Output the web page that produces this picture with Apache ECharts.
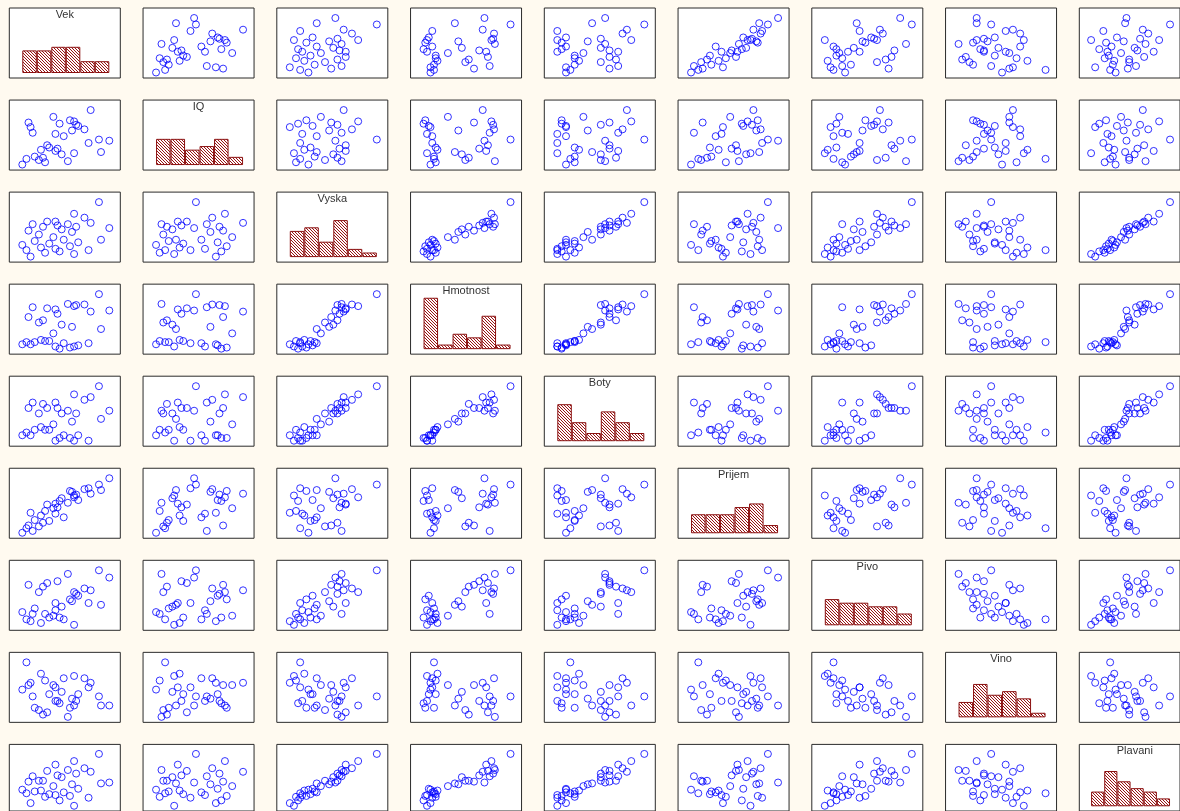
<!DOCTYPE html>
<html>
<head>
<meta charset="utf-8">
<script src="https://cdn.jsdelivr.net/npm/echarts@6/dist/echarts.min.js"></script>
<style>
  html, body { margin: 0; padding: 0; background: #fffaf0; }
  #chart { width: 1180px; height: 811px; }
</style>
</head>
<body>
<div id="chart"></div>
<script>
// Variable names (drawn on the diagonal)
const names = ['Vek', 'IQ', 'Vyska', 'Hmotnost', 'Boty', 'Prijem', 'Pivo', 'Vino', 'Plavani'];

// One value per respondent (32 respondents)
const vek      = [24, 45, 31, 38, 52, 22, 36, 29, 43, 20, 33, 47, 26, 40, 58, 35, 28, 44, 23, 39, 62, 30, 46, 37, 25, 42, 53, 32, 36, 50, 45, 57];
const iq       = [118, 95, 87, 121, 104, 90, 112, 98, 124, 85, 100, 119, 92, 110, 96, 127, 89, 115, 122, 94, 106, 91, 120, 99, 113, 88, 133, 102, 97, 116, 123, 107];
const vyska    = [155, 157, 158, 159, 160, 160, 161, 162, 163, 164, 165, 166, 167, 168, 168, 170, 172, 174, 175, 176, 177, 178, 178, 179, 180, 180, 181, 182, 182, 185, 188, 197];
const hmotnost = [54, 52, 57, 50, 55, 56, 52, 58, 51, 54, 57, 53, 56, 55, 68, 64, 74, 70, 79, 72, 85, 76, 90, 82, 88, 91, 84, 87, 86, 90.5, 89, 100];
const boty     = [37, 36, 38, 36.5, 36, 37.5, 36, 38.5, 36.5, 37, 38, 37, 38, 37, 40, 39, 41, 39.5, 42, 41, 41.5, 42.75, 41, 42, 43, 41.5, 44, 42, 43, 43.5, 44.5, 46];
const prijem   = [23000, 32500, 24000, 29500, 36500, 14500, 22500, 21500, 35000, 12000, 18500, 30000, 19000, 20500, 35500, 25500, 15500, 34500, 16000, 31000, 42000, 17500, 33000, 26000, 13000, 28500, 33500, 27500, 28000, 36000, 31500, 38500];
const pivo     = [2, 0, 6, 4, 12, 3, 8, 1, 14, 7, 4, 16, 9, 3, 11, 5, 18, 13, 22, 10, 26, 21, 17, 24, 6, 28, 19, 23, 12, 20, 18, 30];
const vino     = [7.5, 9, 8, 3, 6.5, 12, 3.5, 9.5, 2, 6, 5, 5, 2, 8.5, 2.5, 7, 1.5, 4, 7, 5.5, 2.5, 0.5, 3.5, 3.5, 4.5, 0, 7.5, 1, 6.5, 8.5, 2.5, 4.5];
const plavani  = [5, 2, 12, 8, 11, 16, 14, 19, 13, 20, 15, 21, 18, 17, 27, 24, 30, 26, 29, 34, 28, 30, 38, 36, 35, 42, 40, 41, 48, 44, 52, 60];

const columns = [vek, iq, vyska, hmotnost, boty, prijem, pivo, vino, plavani];
const nBins = 6;

// Panel geometry (px)
const cellX0 = 9.3, cellY0 = 8, pitchX = 133.75, pitchY = 92.05;
const cellW = 111, cellH = 70;
const padL = 13, padR = 11, padT = 10, padB = 5.5;
const pxPerCount = 3.6;

// Hatch pattern for the histogram bars
const hatch = document.createElement('canvas');
hatch.width = 3; hatch.height = 3;
(function () {
  const g = hatch.getContext('2d');
  const img = g.createImageData(3, 3);
  for (let y = 0; y < 3; y++) {
    for (let x = 0; x < 3; x++) {
      const k = (y * 3 + x) * 4;
      const on = ((x - y + 3) % 3) === 0;
      img.data[k] = on ? 150 : 255;
      img.data[k + 1] = on ? 20 : 250;
      img.data[k + 2] = on ? 20 : 250;
      img.data[k + 3] = 255;
    }
  }
  g.putImageData(img, 0, 0);
})();

function extent(arr) {
  return [Math.min.apply(null, arr), Math.max.apply(null, arr)];
}

function histogram(arr) {
  const [lo, hi] = extent(arr);
  const w = (hi - lo) / nBins;
  const counts = new Array(nBins).fill(0);
  arr.forEach(v => {
    let b = Math.floor((v - lo) / w);
    if (b >= nBins) b = nBins - 1;
    counts[b]++;
  });
  return counts.map((c, i) => [lo + i * w, lo + (i + 1) * w, c]);
}

const grids = [], xAxes = [], yAxes = [], series = [], graphics = [];
const n = columns.length;

for (let r = 0; r < n; r++) {
  for (let c = 0; c < n; c++) {
    const idx = grids.length;
    const left = cellX0 + c * pitchX;
    const top = cellY0 + r * pitchY;
    grids.push({
      left: left, top: top, width: cellW, height: cellH,
      show: true, backgroundColor: '#ffffff', borderColor: '#2b2b2b', borderWidth: 1,
      containLabel: false
    });
    const [xl, xh] = extent(columns[c]);
    const xr = xh - xl;
    const innerW = cellW - padL - padR;
    const innerH = cellH - padT - padB;
    xAxes.push({
      type: 'value', gridIndex: idx, show: false,
      min: xl - padL / innerW * xr, max: xh + padR / innerW * xr
    });
    if (r === c) {
      yAxes.push({
        type: 'value', gridIndex: idx, show: false,
        min: -padB / pxPerCount, max: (cellH - padB) / pxPerCount
      });
      series.push({
        type: 'custom', xAxisIndex: idx, yAxisIndex: idx,
        data: histogram(columns[c]),
        silent: true,
        renderItem: function (params, api) {
          const p0 = api.coord([api.value(0), api.value(2)]);
          const p1 = api.coord([api.value(1), 0]);
          return {
            type: 'rect',
            shape: { x: p0[0] + 0.5, y: p0[1], width: p1[0] - p0[0] - 1, height: p1[1] - p0[1] },
            style: { fill: { image: hatch, repeat: 'repeat' }, stroke: '#8b1010', lineWidth: 1 }
          };
        }
      });
      graphics.push({
        type: 'text', x: left + cellW / 2, y: top + 1,
        style: {
          text: names[c], align: 'center', verticalAlign: 'top',
          font: '11px "Liberation Sans", Arial, sans-serif', fill: '#333333'
        }
      });
    } else {
      const [yl, yh] = extent(columns[r]);
      const yr = yh - yl;
      yAxes.push({
        type: 'value', gridIndex: idx, show: false,
        min: yl - padB / innerH * yr, max: yh + padT / innerH * yr
      });
      series.push({
        type: 'scatter', xAxisIndex: idx, yAxisIndex: idx,
        symbol: 'circle', symbolSize: 7, silent: true,
        itemStyle: { color: 'rgba(255,255,255,0)', borderColor: '#0000ff', borderWidth: 1 },
        data: columns[c].map((v, i) => [v, columns[r][i]])
      });
    }
  }
}

const chart = echarts.init(document.getElementById('chart'), null, { renderer: 'canvas' });
chart.setOption({
  backgroundColor: '#fffaf0',
  animation: false,
  grid: grids,
  xAxis: xAxes,
  yAxis: yAxes,
  series: series,
  graphic: graphics
});
</script>
</body>
</html>
